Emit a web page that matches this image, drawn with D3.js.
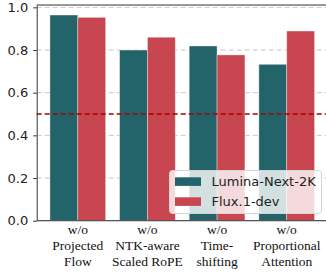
<!DOCTYPE html>
<html>
<head>
<meta charset="utf-8">
<script src="https://cdn.jsdelivr.net/npm/d3@7"></script>
<style>
  body { margin: 0; background: #fff; }
  svg { display: block; }
</style>
</head>
<body>
<div id="chart"></div>
<script>
// data
const categories = [
  ["w/o", "Projected", "Flow"],
  ["w/o", "NTK-aware", "Scaled RoPE"],
  ["w/o", "Time-", "shifting"],
  ["w/o", "Proportional", "Attention"]
];
const seriesNames = ["Lumina-Next-2K", "Flux.1-dev"];
const lumina = [0.964, 0.800, 0.819, 0.733];
const flux = [0.953, 0.860, 0.777, 0.889];
const yTicks = [0.0, 0.2, 0.4, 0.6, 0.8, 1.0];
const threshold = 0.5;

const W = 326, H = 272;
const colors = ["#23646b", "#c8464f"];

const svg = d3.select("#chart").append("svg")
  .attr("width", W).attr("height", H);

// index based x, like matplotlib's bar positions (width 0.4 per bar)
const x = d3.scaleLinear().domain([-0.59, 3.59]).range([36.7, 327.8]);
const y = d3.scaleLinear().domain([0, 1.011]).range([220.7, 5]);
const barW = 0.4;

// grid (behind bars)
svg.append("g")
  .selectAll("line")
  .data(yTicks)
  .join("line")
  .attr("x1", x(-0.59)).attr("x2", x(3.59))
  .attr("y1", d => y(d)).attr("y2", d => y(d))
  .attr("stroke", "#c8c8c8")
  .attr("stroke-width", 1)
  .attr("stroke-dasharray", "5,3");

// bars
const series = [lumina, flux];
series.forEach((vals, s) => {
  svg.append("g")
    .selectAll("rect")
    .data(vals)
    .join("rect")
    .attr("x", (d, i) => x(i + (s - 1) * barW))
    .attr("width", x(barW) - x(0))
    .attr("y", d => y(d))
    .attr("height", d => y(0) - y(d))
    .attr("fill", colors[s])
    .attr("stroke", "rgba(255,255,255,0.45)")
    .attr("stroke-width", 0.8);
});

// threshold line
svg.append("line")
  .attr("x1", x(-0.59)).attr("x2", x(3.59))
  .attr("y1", y(threshold)).attr("y2", y(threshold))
  .attr("stroke", "#a80000")
  .attr("stroke-width", 1.3)
  .attr("stroke-dasharray", "5,3");

// y axis
const yAxis = svg.append("g")
  .attr("transform", `translate(${x(-0.59)},0)`)
  .call(d3.axisLeft(y).tickValues(yTicks).tickFormat(d3.format(".1f")).tickSizeInner(3.5).tickSizeOuter(0).tickPadding(5));
yAxis.select(".domain").attr("stroke", "#333");
yAxis.selectAll(".tick line").attr("stroke", "#333");
yAxis.selectAll("text")
  .attr("fill", "#222")
  .style("font-family", "DejaVu Sans")
  .style("font-size", "13px");

// spines: top and bottom
svg.append("line")
  .attr("x1", x(-0.59)).attr("x2", x(3.59))
  .attr("y1", y(1.011)).attr("y2", y(1.011))
  .attr("stroke", "#333").attr("stroke-width", 1);
svg.append("line")
  .attr("x1", x(-0.59)).attr("x2", x(3.59))
  .attr("y1", y(0)).attr("y2", y(0))
  .attr("stroke", "#555").attr("stroke-width", 1.2);

// x labels, three lines each
const xl = svg.append("g")
  .selectAll("text")
  .data(categories)
  .join("text")
  .attr("text-anchor", "middle")
  .attr("fill", "#111")
  .style("font-family", "Liberation Serif")
  .style("font-size", "13.5px");
xl.each(function (lines, i) {
  d3.select(this).selectAll("tspan")
    .data(lines)
    .join("tspan")
    .attr("x", x(i))
    .attr("y", (d, k) => 234 + k * 16)
    .text(d => d);
});

// legend
const lg = svg.append("g");
lg.append("rect")
  .attr("x", 169.5).attr("y", 170.5)
  .attr("width", 152).attr("height", 43)
  .attr("rx", 3)
  .attr("fill", "rgba(255,255,255,0.8)")
  .attr("stroke", "#d4d4d4")
  .attr("stroke-width", 1);
seriesNames.forEach((name, s) => {
  lg.append("rect")
    .attr("x", 175).attr("y", 177.3 + s * 20)
    .attr("width", 26).attr("height", 8.6)
    .attr("fill", colors[s]);
  lg.append("text")
    .attr("x", 211.5).attr("y", 181.7 + s * 20)
    .attr("dominant-baseline", "central")
    .attr("fill", "#222")
    .style("font-family", "DejaVu Sans")
    .style("font-size", "13px")
    .text(name);
});
</script>
</body>
</html>
